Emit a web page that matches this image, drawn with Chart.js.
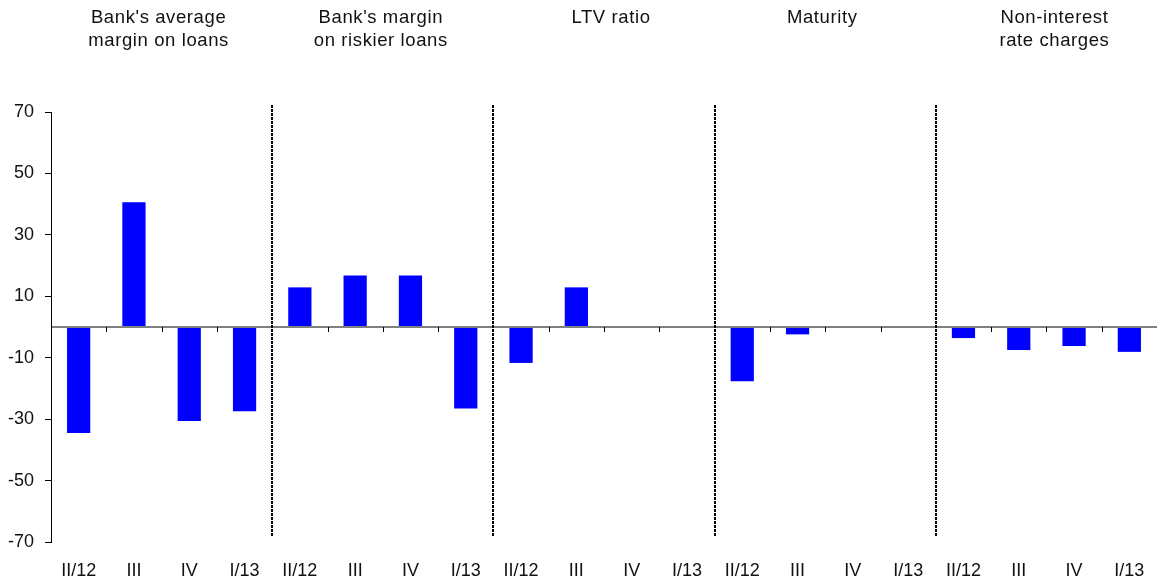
<!DOCTYPE html>
<html>
<head>
<meta charset="utf-8">
<script src="https://cdn.jsdelivr.net/npm/chart.js@4.4.1/dist/chart.umd.min.js"></script>
<style>
  html, body { margin: 0; padding: 0; background: #fff; }
  #wrap { width: 1157px; height: 582px; position: relative; }
</style>
</head>
<body>
<div id="wrap"><canvas id="marginChart"></canvas></div>
<script>
const quarters = ['II/12', 'III', 'IV', 'I/13',
                  'II/12', 'III', 'IV', 'I/13',
                  'II/12', 'III', 'IV', 'I/13',
                  'II/12', 'III', 'IV', 'I/13',
                  'II/12', 'III', 'IV', 'I/13'];
const netPercent = [-34.5, 40.6, -30.6, -27.4,
                    12.9, 16.8, 16.8, -26.5,
                    -11.7, 12.9, 0, 0,
                    -17.7, -2.4, 0, 0,
                    -3.6, -7.5, -6.2, -8.1];
const groupTitles = [
  ["Bank's average", 'margin on loans'],
  ["Bank's margin", 'on riskier loans'],
  ['LTV ratio'],
  ['Maturity'],
  ['Non-interest', 'rate charges']
];
const yTicks = [70, 50, 30, 10, -10, -30, -50, -70];
const perGroup = 4;

// small horizontal nudges for the titles (px)
const titleNudge = [-3, -2, 7, -3, 8];

const FONT = '"Liberation Sans", Arial, sans-serif';

// dashed separators, group titles and small ticks on the zero line
const groupDecor = {
  id: 'groupDecor',
  afterDatasetsDraw(chart) {
    const { ctx, scales: { x, y } } = chart;
    const zeroY = y.getPixelForValue(0);
    ctx.save();

    // tick marks hanging from the zero line, between quarters
    ctx.strokeStyle = '#000';
    ctx.lineWidth = 1;
    for (let i = 0; i < quarters.length - 1; i++) {
      if ((i + 1) % perGroup === 0) continue;
      const px = Math.round(x.getPixelForValue(i + 0.5)) + 0.5;
      ctx.beginPath();
      ctx.moveTo(px, zeroY);
      ctx.lineTo(px, zeroY + 5);
      ctx.stroke();
    }

    // dotted separators between the groups
    ctx.lineWidth = 2;
    ctx.setLineDash([3, 1]);
    for (let g = 1; g < groupTitles.length; g++) {
      const px = Math.round(x.getPixelForValue(g * perGroup - 0.5));
      ctx.beginPath();
      ctx.moveTo(px, 105);
      ctx.lineTo(px, 537);
      ctx.stroke();
    }
    ctx.setLineDash([]);

    // titles above each group
    ctx.fillStyle = '#111';
    ctx.font = '18.5px ' + FONT;
    ctx.letterSpacing = '0.6px';
    ctx.textAlign = 'center';
    ctx.textBaseline = 'middle';
    groupTitles.forEach((lines, g) => {
      const mid = (x.getPixelForValue(g * perGroup) + x.getPixelForValue(g * perGroup + perGroup - 1)) / 2;
      lines.forEach((txt, k) => {
        ctx.fillText(txt, mid + titleNudge[g], 18 + k * 23);
      });
    });
    ctx.restore();
  }
};

new Chart(document.getElementById('marginChart'), {
  type: 'bar',
  data: {
    labels: quarters,
    datasets: [{
      data: netPercent,
      backgroundColor: '#0000ff',
      categoryPercentage: 1,
      barPercentage: 0.42
    }]
  },
  options: {
    responsive: true,
    maintainAspectRatio: false,
    animation: false,
    layout: { padding: { top: 112, right: 0, bottom: 0, left: 0 } },
    plugins: {
      legend: { display: false },
      tooltip: { enabled: false }
    },
    scales: {
      x: {
        grid: { display: false },
        border: { display: false },
        ticks: {
          color: '#111',
          font: { family: FONT, size: 18 },
          maxRotation: 0,
          autoSkip: false,
          padding: 10
        },
        afterFit(scale) { scale.height = 40; }
      },
      y: {
        min: -70,
        max: 70,
        afterBuildTicks(scale) {
          scale.ticks = yTicks.concat([0]).map(v => ({ value: v }));
        },
        grid: {
          color: ctx => (ctx.tick && ctx.tick.value === 0) ? '#808080' : 'rgba(0,0,0,0)',
          lineWidth: ctx => (ctx.tick && ctx.tick.value === 0) ? 2 : 1,
          tickColor: ctx => (ctx.tick && ctx.tick.value === 0) ? 'rgba(0,0,0,0)' : '#000',
          tickLength: 6
        },
        border: { display: true, color: '#000', width: 1 },
        ticks: {
          color: '#111',
          font: { family: FONT, size: 18 },
          padding: 11,
          callback: v => (v === 0 ? '' : v)
        },
        afterFit(scale) { scale.width = 51; }
      }
    }
  },
  plugins: [groupDecor]
});
</script>
</body>
</html>
